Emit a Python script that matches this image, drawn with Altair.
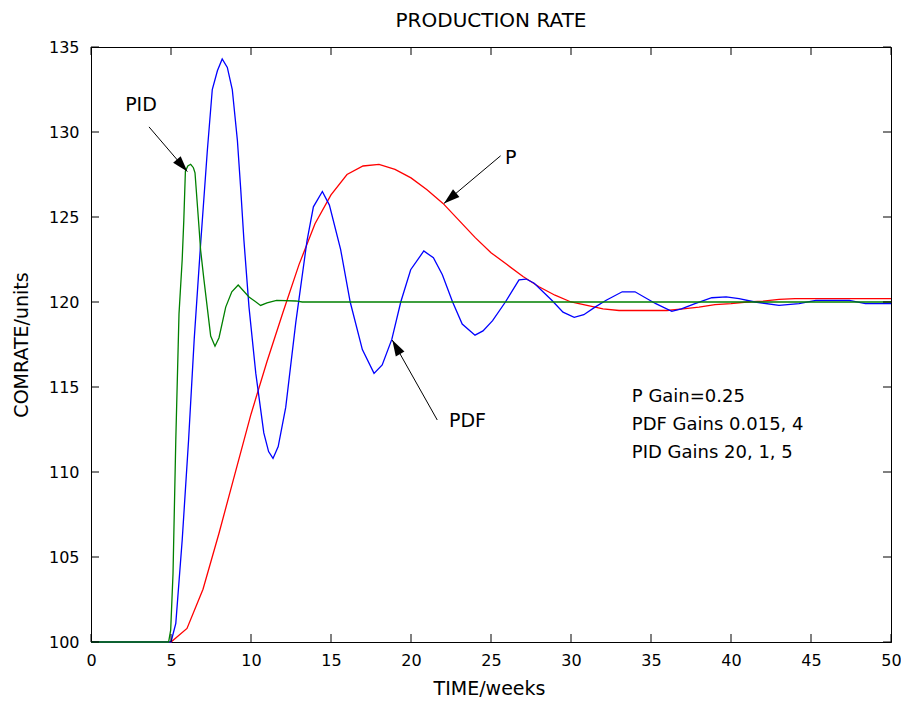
import math
import altair as alt
import pandas as pd

# ---------------- data ----------------
p_t = [0, 5, 6, 7, 8, 9, 10, 11, 12, 13, 14, 15, 16, 17, 18, 19, 20, 21, 22, 23,
       24, 25, 26, 27, 28, 29, 30, 31, 32, 33, 34, 35, 36, 37, 38, 39, 40, 41,
       42, 43, 44, 50]
p_v = [100, 100, 100.8, 103.1, 106.4, 109.9, 113.4, 116.5, 119.4, 122.2, 124.6,
       126.3, 127.5, 128.0, 128.1, 127.8, 127.3, 126.6, 125.8, 124.8, 123.8,
       122.9, 122.2, 121.5, 120.9, 120.4, 120.0, 119.8, 119.6, 119.5, 119.5,
       119.5, 119.5, 119.6, 119.7, 119.85, 119.9, 120.0, 120.05, 120.15, 120.2,
       120.2]

pdf_t = [0, 5, 5.3, 5.7, 6.1, 6.45, 6.85, 7.27, 7.58, 7.9, 8.2, 8.52, 8.83, 9.15,
         9.36, 9.56, 9.875, 10.3, 10.8, 11.1, 11.375, 11.7, 12.17, 12.8, 13.5,
         13.9, 14.46, 14.9, 15.6, 16.2, 16.96, 17.69, 18.2, 18.8, 19.36, 19.98,
         20.8, 21.4, 21.96, 22.6, 23.2, 24.0, 24.5, 25.1, 25.9, 26.75, 27.2,
         27.7, 28.8, 29.5, 30.2, 30.8, 31.5, 32.2, 33.2, 34.0, 35.3, 36.3, 36.9,
         37.75, 38.8, 39.7, 40.5, 41.5, 43.0, 44.25, 45.3, 47.4, 48.4, 50]
pdf_v = [100, 100, 101.1, 106.0, 111.9, 117.8, 123.4, 128.9, 132.5, 133.6, 134.3,
         133.8, 132.5, 129.5, 126.6, 123.6, 119.7, 115.8, 112.3, 111.2, 110.8,
         111.5, 113.8, 118.8, 123.6, 125.6, 126.5, 125.7, 123.1, 120.0, 117.2,
         115.8, 116.3, 117.8, 120.0, 121.9, 123.0, 122.6, 121.6, 120.0, 118.7,
         118.05, 118.3, 118.9, 120.0, 121.3, 121.35, 121.1, 120.1, 119.4, 119.1,
         119.25, 119.7, 120.1, 120.6, 120.6, 119.9, 119.45, 119.6, 119.9, 120.25,
         120.3, 120.2, 120.0, 119.8, 119.9, 120.1, 120.1, 119.9, 119.9]

pid_t = [0, 4.85, 4.98, 5.125, 5.3, 5.5, 5.7, 5.8, 5.9, 6.05, 6.23, 6.4, 6.5,
         6.75, 6.85, 7.06, 7.48, 7.75, 8.0, 8.42, 8.8, 9.2, 9.875, 10.6, 11.0,
         11.6, 12.8, 13.2, 50]
pid_v = [100, 100, 100.7, 104.0, 111.9, 119.3, 122.5, 124.8, 127.7, 128.0, 128.1,
         127.9, 127.6, 124.4, 123.06, 121.3, 118.0, 117.4, 117.9, 119.7, 120.6,
         121.0, 120.3, 119.8, 119.95, 120.1, 120.06, 120.0, 120.0]

series_names = ["P", "PDF", "PID"]
series_colors = ["#ff0000", "#0000ff", "#008000"]

x_ticks = [0, 5, 10, 15, 20, 25, 30, 35, 40, 45, 50]
y_ticks = [100, 105, 110, 115, 120, 125, 130, 135]

# annotation labels
label_text = ["PID", "P", "PDF"]
label_t = [3.125, 25.875, 22.375]
label_v = [131.6, 128.5, 113.0]
label_align = ["center", "left", "left"]

# arrows: start -> tip
arrow_t0 = [3.625, 25.6, 21.64]
arrow_v0 = [130.3, 128.6, 113.06]
arrow_t1 = [6.02, 22.06, 18.83]
arrow_v1 = [127.67, 125.8, 117.76]

# gains note
note_text = ["P Gain=0.25", "PDF Gains 0.015, 4", "PID Gains 20, 1, 5"]
note_t = [33.8, 33.8, 33.8]
note_v = [114.41, 112.76, 111.12]

# ---------------- chart ----------------
W, H = 800, 595
FONT = "DejaVu Sans"
X_MIN, X_MAX = 0, 50
Y_MIN, Y_MAX = 100, 135

lines_df = pd.concat([
    pd.DataFrame({"t": p_t, "v": p_v, "series": "P"}),
    pd.DataFrame({"t": pdf_t, "v": pdf_v, "series": "PDF"}),
    pd.DataFrame({"t": pid_t, "v": pid_v, "series": "PID"}),
], ignore_index=True)

x_scale = alt.Scale(domain=[X_MIN, X_MAX], nice=False, zero=False)
y_scale = alt.Scale(domain=[Y_MIN, Y_MAX], nice=False, zero=False)

x_axis = alt.Axis(values=x_ticks, title="TIME/weeks", labelPadding=10,
                  labelFlush=False, labelOverlap=False,
                  ticks=False, tickSize=0, grid=False,
                  domain=True, domainColor="black", domainWidth=1,
                  labelFont=FONT, labelFontSize=16, labelColor="black",
                  titleFont=FONT, titleFontSize=19, titleFontWeight="normal",
                  titleColor="black",
                  titleX=398, titleY=46, titleBaseline="middle", titleAlign="center")
y_axis = alt.Axis(values=y_ticks, title="COMRATE/units", labelPadding=12,
                  labelFlush=False, labelOverlap=False,
                  ticks=False, tickSize=0, grid=False,
                  domain=True, domainColor="black", domainWidth=1,
                  labelFont=FONT, labelFontSize=16, labelColor="black",
                  titleFont=FONT, titleFontSize=19, titleFontWeight="normal",
                  titleColor="black",
                  titleX=-70, titleY=297.5, titleAngle=270,
                  titleBaseline="middle", titleAlign="center")


def X(field):
    return alt.X(field, scale=x_scale, axis=x_axis)


def Y(field):
    return alt.Y(field, scale=y_scale, axis=y_axis)


lines = alt.Chart(lines_df).mark_line(strokeWidth=1.3).encode(
    x=X("t:Q"),
    y=Y("v:Q"),
    color=alt.Color("series:N", scale=alt.Scale(domain=series_names, range=series_colors),
                    legend=None),
    detail="series:N",
)

# inward ticks on all four sides
tick_len = 8
xt_df = pd.DataFrame({"t": x_ticks})
yt_df = pd.DataFrame({"v": y_ticks})
tick_bottom = alt.Chart(xt_df).mark_rule(color="black", strokeWidth=1).encode(
    x=X("t:Q"), y=alt.value(H), y2=alt.value(H - tick_len))
tick_top = alt.Chart(xt_df).mark_rule(color="black", strokeWidth=1).encode(
    x=X("t:Q"), y=alt.value(0), y2=alt.value(tick_len))
tick_left = alt.Chart(yt_df).mark_rule(color="black", strokeWidth=1).encode(
    y=Y("v:Q"), x=alt.value(0), x2=alt.value(tick_len))
tick_right = alt.Chart(yt_df).mark_rule(color="black", strokeWidth=1).encode(
    y=Y("v:Q"), x=alt.value(W), x2=alt.value(W - tick_len))

# annotation labels
lab_df = pd.DataFrame({"t": label_t, "v": label_v, "text": label_text, "align": label_align})
labels_center = alt.Chart(lab_df[lab_df["align"] == "center"]).mark_text(
    font=FONT, fontSize=19, align="center", baseline="middle", color="black").encode(
    x=X("t:Q"), y=Y("v:Q"), text="text:N")
labels_left = alt.Chart(lab_df[lab_df["align"] == "left"]).mark_text(
    font=FONT, fontSize=19, align="left", baseline="middle", color="black").encode(
    x=X("t:Q"), y=Y("v:Q"), text="text:N")

note_df = pd.DataFrame({"t": note_t, "v": note_v, "text": note_text})
notes = alt.Chart(note_df).mark_text(
    font=FONT, fontSize=18, align="left", baseline="middle", color="black").encode(
    x=X("t:Q"), y=Y("v:Q"), text="text:N")

# arrows
sx = W / (X_MAX - X_MIN)
sy = H / (Y_MAX - Y_MIN)
angles = []
for a0, b0, a1, b1 in zip(arrow_t0, arrow_v0, arrow_t1, arrow_v1):
    dx = (a1 - a0) * sx
    dy = -(b1 - b0) * sy
    angles.append(math.degrees(math.atan2(dy, dx)) % 360)
arr_df = pd.DataFrame({"t": arrow_t0, "v": arrow_v0, "t1": arrow_t1,
                       "v1": arrow_v1, "ang": angles})
arrow_lines = alt.Chart(arr_df).mark_rule(color="black", strokeWidth=1).encode(
    x=X("t:Q"), y=Y("v:Q"), x2="t1:Q", y2="v1:Q")
ARROW_PATH = "M0,0L-2,-0.62L-2,0.62Z"
head_df = pd.DataFrame({"t": arrow_t1, "v": arrow_v1, "ang": angles})
arrow_heads = alt.Chart(head_df).mark_point(
    shape=ARROW_PATH, filled=True, size=256, color="black", opacity=1, strokeWidth=0).encode(
    x=X("t:Q"), y=Y("v:Q"), angle=alt.Angle("ang:Q", scale=None))

chart = alt.layer(
    lines, tick_bottom, tick_top, tick_left, tick_right,
    labels_center, labels_left, notes, arrow_lines, arrow_heads,
).properties(
    width=W, height=H,
    background="white",
    title=alt.Title("PRODUCTION RATE", font=FONT, fontSize=20, fontWeight="normal",
                    color="black", anchor="middle", offset=8),
    padding={"left": 83, "top": 39, "right": 10, "bottom": 55},
    autosize=alt.AutoSizeParams(type="none"),
).configure_view(
    stroke="black", strokeWidth=1
)

chart.save("out.html", embed_options={"renderer": "svg", "actions": False})
